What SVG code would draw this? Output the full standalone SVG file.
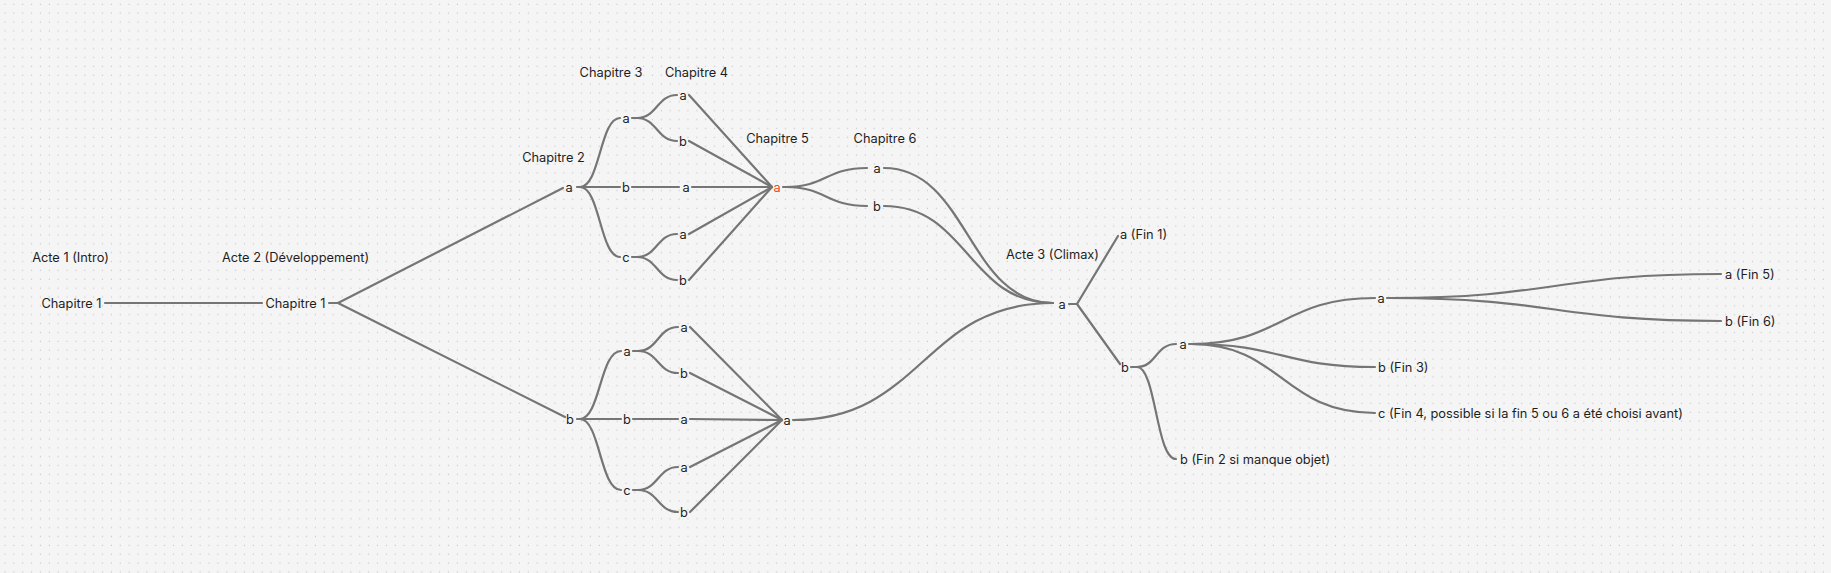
<svg xmlns="http://www.w3.org/2000/svg" width="1831" height="573" viewBox="0 0 1831 573">
<defs>
<pattern id="dots" patternUnits="userSpaceOnUse" x="0.6" y="0" width="8.87" height="8.87">
<rect x="3.8" y="3.7" width="1.1" height="1.1" fill="#c2c2c2"/>
</pattern>
<style>
text{font-family:Inter,"Noto Sans","Liberation Sans",sans-serif;font-size:12.8px;fill:#1e1e1e;dominant-baseline:central}
.m{text-anchor:middle}
.s{text-anchor:start}
.red{fill:#f24822}
#connectors path{fill:none;stroke:#757575;stroke-width:2.2;stroke-linecap:round;stroke-linejoin:round}
</style>
</defs>
<rect width="1831" height="573" fill="#f5f5f5"/>
<rect width="1831" height="573" fill="url(#dots)"/>
<g id="connectors">
<path d="M105 303 H262"/>
<path d="M329 303 H338 L563 188"/>
<path d="M338 303 L565 417"/>
<!-- top branch -->
<path d="M577 187 H580 C600 187 600 118 620 118"/>
<path d="M580 187 H620"/>
<path d="M580 187 C600 187 600 257 620 257"/>
<path d="M632 118 H637 C657 118 657 95 677 95"/>
<path d="M637 118 C657 118 657 141 677 141"/>
<path d="M632 187 H679"/>
<path d="M632 257 H637 C657 257 657 234 677 234"/>
<path d="M637 257 C657 257 657 280 677 280"/>
<path d="M689 95 L772 187"/>
<path d="M689 141 L772 187"/>
<path d="M692 187 H772"/>
<path d="M689 234 L772 187"/>
<path d="M689 280 L772 187"/>
<path d="M783 187 H786 C826 187 826 168 867 168"/>
<path d="M786 187 C826 187 826 206 867 206"/>
<path d="M884 168 C968 168 968 303 1053 303"/>
<path d="M884 206 C968 206 968 303 1053 303"/>
<!-- bottom branch -->
<path d="M577 419 H580 C600 419 600 351 621 351"/>
<path d="M580 419 H621"/>
<path d="M580 419 C600 419 600 490 621 490"/>
<path d="M633 351 H638 C658 351 658 327 678 327"/>
<path d="M638 351 C658 351 658 373 678 373"/>
<path d="M633 419 H678"/>
<path d="M633 490 H638 C658 490 658 467 678 467"/>
<path d="M638 490 C658 490 658 512 678 512"/>
<path d="M690 327 L782 420"/>
<path d="M690 373 L782 420"/>
<path d="M690 419 L782 420"/>
<path d="M690 467 L782 420"/>
<path d="M690 512 L782 420"/>
<path d="M793 420 C923 420 923 303 1053 303"/>
<!-- act 3 -->
<path d="M1069 304 H1077 L1118 236"/>
<path d="M1077 304 L1120 364"/>
<path d="M1131 367 H1137 C1156 367 1156 344 1176 344"/>
<path d="M1137 367 C1156 367 1156 459 1176 459"/>
<path d="M1189 344 H1191 C1282 344 1282 298 1375 298"/>
<path d="M1191 344 C1282 344 1282 367 1375 367"/>
<path d="M1191 344 C1282 344 1282 413 1375 413"/>
<path d="M1387 298 H1389 C1555 298 1555 274 1721 274"/>
<path d="M1389 298 C1555 298 1555 321 1721 321"/>
</g>
<g id="labels">
<text class="m" x="70.5" y="257">Acte 1 (Intro)</text>
<text class="m" x="295.5" y="257">Acte 2 (Développement)</text>
<text class="m" x="553.5" y="157">Chapitre 2</text>
<text class="m" x="611" y="72">Chapitre 3</text>
<text class="m" x="696.5" y="72">Chapitre 4</text>
<text class="m" x="777.5" y="138">Chapitre 5</text>
<text class="m" x="885" y="138">Chapitre 6</text>
<text class="m" x="1052.5" y="254">Acte 3 (Climax)</text>
</g>
<g id="n-ch1-a1"><text class="m" x="71.5" y="303">Chapitre 1</text></g>
<g id="n-ch1-a2"><text class="m" x="295.5" y="303">Chapitre 1</text></g>
<g id="n-ch2-a"><text class="m" x="569" y="187">a</text></g>
<g id="n-ch3-aa"><text class="m" x="626" y="118">a</text></g>
<g id="n-ch3-ab"><text class="m" x="626" y="187">b</text></g>
<g id="n-ch3-ac"><text class="m" x="626" y="257">c</text></g>
<g id="n-ch4-aaa"><text class="m" x="683" y="95">a</text></g>
<g id="n-ch4-aab"><text class="m" x="683" y="141">b</text></g>
<g id="n-ch4-aba"><text class="m" x="686" y="187">a</text></g>
<g id="n-ch4-aca"><text class="m" x="683" y="234">a</text></g>
<g id="n-ch4-acb"><text class="m" x="683" y="280">b</text></g>
<g id="n-ch5-a1"><text class="m red" x="777" y="187">a</text></g>
<g id="n-ch6-a"><text class="m" x="877" y="168">a</text></g>
<g id="n-ch6-b"><text class="m" x="877" y="206">b</text></g>
<g id="n-ch2-b"><text class="m" x="570" y="419">b</text></g>
<g id="n-ch3-ba"><text class="m" x="627" y="351">a</text></g>
<g id="n-ch3-bb"><text class="m" x="627" y="419">b</text></g>
<g id="n-ch3-bc"><text class="m" x="627" y="490">c</text></g>
<g id="n-ch4-baa"><text class="m" x="684" y="327">a</text></g>
<g id="n-ch4-bab"><text class="m" x="684" y="373">b</text></g>
<g id="n-ch4-bba"><text class="m" x="684" y="419">a</text></g>
<g id="n-ch4-bca"><text class="m" x="684" y="467">a</text></g>
<g id="n-ch4-bcb"><text class="m" x="684" y="512">b</text></g>
<g id="n-ch5-a2"><text class="m" x="787" y="420">a</text></g>
<g id="n-act3-a"><text class="m" x="1062" y="304">a</text></g>
<g id="n-fin1"><text class="s" x="1120" y="234">a (Fin 1)</text></g>
<g id="n-act3-b"><text class="m" x="1125" y="367">b</text></g>
<g id="n-act3-ba"><text class="m" x="1183" y="344">a</text></g>
<g id="n-fin2"><text class="s" x="1180" y="459">b (Fin 2 si manque objet)</text></g>
<g id="n-act3-baa"><text class="m" x="1381" y="298">a</text></g>
<g id="n-fin5"><text class="s" x="1725" y="274">a (Fin 5)</text></g>
<g id="n-fin6"><text class="s" x="1725" y="321">b (Fin 6)</text></g>
<g id="n-fin3"><text class="s" x="1378" y="367">b (Fin 3)</text></g>
<g id="n-fin4"><text class="s" x="1378" y="413">c (Fin 4, possible si la fin 5 ou 6 a été choisi avant)</text></g>
</svg>
